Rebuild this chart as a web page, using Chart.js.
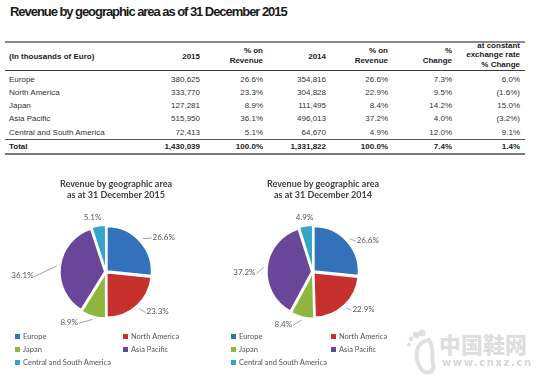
<!DOCTYPE html>
<html><head><meta charset="utf-8">
<script src="https://cdn.jsdelivr.net/npm/chart.js@4.4.1/dist/chart.umd.min.js"></script>
<style>
html,body{margin:0;padding:0;background:#fff;}
body{width:550px;height:376px;position:relative;overflow:hidden;font-family:"Liberation Sans",Arial,sans-serif;}
#title{position:absolute;left:10px;top:4px;font:bold 13px "Liberation Sans",Arial,sans-serif;letter-spacing:-1.05px;color:#1a1a1a;white-space:nowrap;}
.rule{position:absolute;left:5px;width:520px;}
.cell{position:absolute;font-size:8px;line-height:10px;color:#333;white-space:nowrap;}
.hdr{font-weight:bold;color:#222;line-height:9.8px;text-align:right;}
canvas{position:absolute;}
.leg{position:absolute;font:7.5px Lato,sans-serif;color:#555;white-space:nowrap;line-height:9px;}
.leg i{display:inline-block;width:5px;height:5px;margin-right:3px;vertical-align:0px;}
#wm1{position:absolute;left:439px;top:330px;font:900 22px "Noto Sans CJK SC",sans-serif;color:#dedede;letter-spacing:0px;line-height:26px;}
#wm2{position:absolute;left:442px;top:357px;font:bold 10px "DejaVu Sans",sans-serif;color:#d6d6d6;letter-spacing:1.6px;line-height:12px;}
</style></head><body>
<div id="title">Revenue by geographic area as of 31 December 2015</div>
<div id="table"></div>
<canvas id="pie2015" width="200" height="178" style="left:6px;top:165px"></canvas>
<canvas id="pie2014" width="200" height="178" style="left:213px;top:165px"></canvas>
<div id="legends"></div>
<svg style="position:absolute;left:405px;top:328px" width="36" height="48">
  <g fill="#e0e0e0"><circle cx="11" cy="7" r="3.2"/><circle cx="6" cy="11" r="2.4"/><circle cx="4" cy="16.5" r="2"/><circle cx="17" cy="5" r="3.6"/></g>
  <path d="M24 12 C 10 14, 8 30, 17 42 C 22 47, 30 44, 28 36 C 26 28, 30 22, 24 12 Z" fill="none" stroke="#e0e0e0" stroke-width="4"/>
</svg>
<div id="wm1">中国鞋网</div>
<div id="wm2">www.cnxz.cn</div>
<script>
// ---- data ----
const regions = ['Europe', 'North America', 'Japan', 'Asia Pacific', 'Central and South America'];
const revenue2015 = [380625, 333770, 127281, 515950, 72413];
const share2015 = [26.6, 23.3, 8.9, 36.1, 5.1];
const revenue2014 = [354816, 304828, 111495, 496013, 64670];
const share2014 = [26.6, 22.9, 8.4, 37.2, 4.9];
const pctChange = ['7.3%', '9.5%', '14.2%', '4.0%', '12.0%'];
const constChange = ['6.0%', '(1.6%)', '15.0%', '(3.2%)', '9.1%'];
const totalRow = ['Total', '1,430,039', '100.0%', '1,331,822', '100.0%', '7.4%', '1.4%'];
const headers = [['(In thousands of Euro)'], ['2015'], ['% on', 'Revenue'], ['2014'], ['% on', 'Revenue'], ['%', 'Change'], ['at constant', 'exchange rate', '% Change']];

// ---- styles ----
const colors = ['#3471bb', '#c6302d', '#8fb73f', '#6a469b', '#34a6cc'];
const colRight = [null, 200, 263, 326, 388, 452, 520];
const rowY = [79.5, 92.8, 106, 119.3, 132.6];
const totalY = 146.7;

const fmt = v => v.toLocaleString('en-US');
const tbl = document.getElementById('table');
function addCell(text, col, yc, cls, lh) {
  const d = document.createElement('div');
  d.className = 'cell ' + (cls || '');
  d.innerHTML = text;
  const L = lh || 10;
  const lines = text.split('<br>').length;
  d.style.top = (yc - L * lines / 2) + 'px';
  if (col === 0) d.style.left = '9px'; else { d.style.right = (550 - colRight[col]) + 'px'; d.style.textAlign = 'right'; }
  tbl.appendChild(d);
}
function addRule(y, h, c) {
  const d = document.createElement('div'); d.className = 'rule';
  d.style.top = y + 'px'; d.style.height = h + 'px'; d.style.background = c; tbl.appendChild(d);
}
addRule(40.5, 2, '#8a8a8a');
addRule(69.8, 1.6, '#3a3a3a');
addRule(138.6, 1, '#555');
addRule(152.5, 2, '#7a7a7a');
headers.forEach((h, c) => {
  const yc = h.length === 3 ? 55.2 : h.length === 2 ? 55.8 : 56.5;
  addCell(h.join('<br>'), c, yc, 'hdr', 9.8);
});
regions.forEach((r, i) => {
  const row = [r, fmt(revenue2015[i]), share2015[i].toFixed(1) + '%', fmt(revenue2014[i]), share2014[i].toFixed(1) + '%', pctChange[i], constChange[i]];
  row.forEach((t, c) => addCell(t, c, rowY[i], c === 0 ? 'lbl' : ''));
});
totalRow.forEach((t, c) => addCell(t, c, totalY, 'hdr'));

// ---- charts ----
const titleShift = {
  id: 'titleShift',
  afterLayout(chart, args, opts) { if (chart.titleBlock) chart.titleBlock.left += (opts.dx || 0) * 2; }
};
const pieLabels = {
  id: 'pieLabels',
  afterDatasetsDraw(chart, args, opts) {
    const ctx = chart.ctx, meta = chart.getDatasetMeta(0);
    ctx.save();
    ctx.font = '8px Lato, sans-serif';
    ctx.fillStyle = '#595959'; ctx.strokeStyle = '#8c8c8c'; ctx.lineWidth = 0.8;
    meta.data.forEach((arc, i) => {
      const p = arc.getProps(['x', 'y', 'startAngle', 'endAngle', 'outerRadius'], true);
      const mid = (p.startAngle + p.endAngle) / 2;
      const off = arc.options.offset || 0;
      const la = mid + opts.dAngle[i] * Math.PI / 180;
      const lr = p.outerRadius + opts.dRadius[i];
      const lx = p.x + Math.cos(la) * lr, ly = p.y + Math.sin(la) * lr;
      const c = Math.cos(la);
      const align = c > 0.3 ? 'left' : (c < -0.3 ? 'right' : 'center');
      if (opts.leader[i]) {
        const ex = p.x + Math.cos(mid) * (p.outerRadius + off), ey = p.y + Math.sin(mid) * (p.outerRadius + off);
        ctx.beginPath(); ctx.moveTo(ex, ey);
        ctx.lineTo(lx + (align === 'left' ? -1 : 1), ly + 1); ctx.stroke();
      }
      ctx.textAlign = align; ctx.textBaseline = 'middle';
      ctx.fillText(opts.text[i], lx, ly);
    });
    ctx.restore();
  }
};
function makePie(id, year, values, shares, dAngle, dRadius) {
  return new Chart(document.getElementById(id), {
    type: 'pie',
    data: { labels: regions, datasets: [{ data: values, backgroundColor: colors, borderColor: '#ffffff', borderWidth: 1.5, offset: 5 }] },
    options: {
      responsive: false, animation: false, events: [], radius: 44.5,
      layout: { padding: 0 },
      plugins: {
        legend: { display: false }, tooltip: { enabled: false },
        title: { display: true, text: ['Revenue by geographic area', 'as at 31 December ' + year],
          font: { family: 'Lato', size: 9, weight: 'bold', lineHeight: 1.2 }, color: '#404040', padding: { top: 14, bottom: 0 } },
        titleShift: { dx: 10 },
        pieLabels: { text: shares.map(s => s.toFixed(1) + '%'), dAngle, dRadius, leader: [true, true, true, true, false] }
      }
    },
    plugins: [titleShift, pieLabels]
  });
}
const c15 = makePie('pie2015', '2015', revenue2015, share2015, [5.4, -3.4, 13.2, -9.7, -4.8], [13.6, 12.3, 13.2, 28, 11.6]);
const c14 = makePie('pie2014', '2014', revenue2014, share2014, [6.1, -3.5, 8.3, -6.4, 0], [9.4, 10, 12, 13, 10.7]);

// ---- html legends built from chart data ----
const legWrap = document.getElementById('legends');
function buildLegend(chart, cols) {
  const rowsY = [336, 349, 362];
  const ds = chart.data.datasets[0];
  chart.data.labels.forEach((lab, i) => {
    const d = document.createElement('div'); d.className = 'leg';
    d.innerHTML = '<i style="background:' + ds.backgroundColor[i] + '"></i>' + lab;
    d.style.left = cols[i % 2] + 'px'; d.style.top = (rowsY[Math.floor(i / 2)] - 4.5) + 'px';
    legWrap.appendChild(d);
  });
}
buildLegend(c15, [15, 123]);
buildLegend(c14, [231, 331]);
</script>
</body></html>
